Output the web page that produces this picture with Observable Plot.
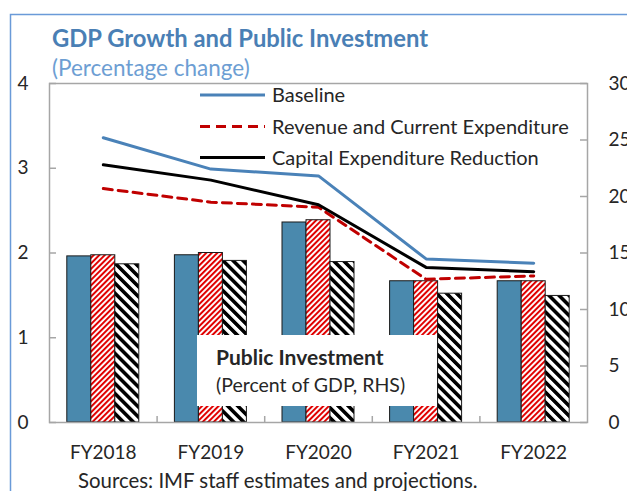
<!DOCTYPE html>
<html>
<head>
<meta charset="utf-8">
<script src="https://cdn.jsdelivr.net/npm/d3@7"></script>
<script src="https://cdn.jsdelivr.net/npm/@observablehq/plot@0.6"></script>
<style>
  html, body { margin: 0; padding: 0; background: white; }
  #chart { width: 627px; height: 491px; }
</style>
</head>
<body>
<div id="chart"></div>
<script>
// ---- Data ----
const categories = ["FY2018", "FY2019", "FY2020", "FY2021", "FY2022"];
// GDP growth (percentage change, LHS)
const baseline = [3.36, 2.99, 2.91, 1.93, 1.88];
const revenueCurrent = [2.76, 2.60, 2.54, 1.69, 1.73];
const capitalReduction = [3.04, 2.86, 2.57, 1.83, 1.78];
// Public investment (percent of GDP, RHS)
const investBaseline = [14.7, 14.8, 17.7, 12.5, 12.5];
const investRevenue = [14.8, 15.0, 17.9, 12.5, 12.5];
const investCapital = [14.0, 14.3, 14.2, 11.4, 11.2];
const leftTicks = [0, 1, 2, 3, 4];
const rightTicks = [0, 5, 10, 15, 20, 25, 30];
const seriesNames = ["Baseline", "Revenue and Current Expenditure", "Capital Expenditure Reduction"];

// ---- Layout ----
const W = 627, H = 491;
const mL = 49, mR = 40, mT = 83, mB = 69;
const pw = W - mL - mR, ph = H - mT - mB;
const rhs = v => v * 4 / 30;            // map RHS values onto LHS scale
const step = pw / categories.length;
const barW = 24 / step;                  // in x units
const FONT = "Lato, 'Open Sans', sans-serif";
const TXT = "#262626";

function barsFor(values, k) {
  return categories.map((c, i) => {
    const x1 = i + 0.5 + (k - 1.5) * barW;
    return {cat: c, x1, x2: x1 + barW, v: rhs(values[i])};
  });
}
function lineFor(values) {
  return categories.map((c, i) => ({cat: c, x: i + 0.5, y: values[i]}));
}

const chart = Plot.plot({
  width: W, height: H,
  marginLeft: mL, marginRight: mR, marginTop: mT, marginBottom: mB,
  x: {domain: [0, categories.length], axis: null},
  y: {domain: [0, 4], axis: null},
  style: {fontFamily: FONT, fontSize: "19px", color: TXT, background: "white", overflow: "visible"},
  marks: [
    Plot.rectY(barsFor(investBaseline, 0), {x1: "x1", x2: "x2", y1: 0, y2: "v", fill: "#4a89ad", stroke: "#1a1a1a", strokeWidth: 1}),
    Plot.rectY(barsFor(investRevenue, 1), {x1: "x1", x2: "x2", y1: 0, y2: "v", fill: "url(#redHatch)", stroke: "#1a1a1a", strokeWidth: 1}),
    Plot.rectY(barsFor(investCapital, 2), {x1: "x1", x2: "x2", y1: 0, y2: "v", fill: "url(#blackHatch)", stroke: "#1a1a1a", strokeWidth: 1}),
    Plot.frame({stroke: "#a6a6a6", strokeWidth: 1.5}),
    Plot.ruleY(leftTicks, {y: d => d, stroke: "#a6a6a6", strokeWidth: 1.5, insetRight: pw - 7}),
    Plot.ruleY(rightTicks, {y: d => rhs(d), stroke: "#a6a6a6", strokeWidth: 1.5, insetLeft: pw - 7}),
    Plot.ruleX(d3.range(1, categories.length), {x: d => d, stroke: "#a6a6a6", strokeWidth: 1.5, insetTop: ph - 6}),
    Plot.axisY({anchor: "left", ticks: leftTicks, tickSize: 0, tickPadding: 21, tickFormat: d => d, fontSize: 19, fill: TXT}),
    Plot.axisY({anchor: "right", ticks: rightTicks.map(rhs), tickSize: 0, tickPadding: 21, tickFormat: d => Math.round(d * 30 / 4), fontSize: 19, fill: TXT}),
    Plot.axisX({ticks: categories.map((c, i) => i + 0.5), tickSize: 0, tickPadding: 23, tickFormat: d => categories[Math.floor(d)], fontSize: 19, fill: TXT}),
    Plot.line(lineFor(revenueCurrent), {x: "x", y: "y", stroke: "#c00000", strokeWidth: 3, strokeDasharray: "9,6"}),
    Plot.line(lineFor(capitalReduction), {x: "x", y: "y", stroke: "#000000", strokeWidth: 3}),
    Plot.line(lineFor(baseline), {x: "x", y: "y", stroke: "#4a82b8", strokeWidth: 3})
  ]
});

document.getElementById("chart").appendChild(chart);

// ---- Patterns, frame, titles, legend, annotation ----
const svg = d3.select(chart);
const defs = svg.insert("defs", ":first-child");
const red = defs.append("pattern").attr("id", "redHatch").attr("patternUnits", "userSpaceOnUse")
  .attr("width", 3.9).attr("height", 3.9).attr("patternTransform", "rotate(45)");
red.append("rect").attr("width", 3.9).attr("height", 3.9).attr("fill", "white");
red.append("rect").attr("width", 2).attr("height", 3.9).attr("fill", "#e00000");
const blk = defs.append("pattern").attr("id", "blackHatch").attr("patternUnits", "userSpaceOnUse")
  .attr("width", 7.1).attr("height", 7.1).attr("patternTransform", "rotate(-45)");
blk.append("rect").attr("width", 7.1).attr("height", 7.1).attr("fill", "white");
blk.append("rect").attr("width", 3.6).attr("height", 7.1).attr("fill", "#000");

const extra = svg.append("g").attr("text-anchor", "start").attr("font-family", FONT);

// outer blue frame
extra.append("path").attr("d", "M10.5,491 V14.5 H627").attr("fill", "none")
  .attr("stroke", "#6a9ad8").attr("stroke-width", 1.5);

// title & subtitle
extra.append("text").attr("x", 52).attr("y", 47).attr("font-size", 23.8)
  .attr("font-weight", "bold").attr("fill", "#4a7fb5").text("GDP Growth and Public Investment");
extra.append("text").attr("x", 52).attr("y", 76).attr("font-size", 22.5)
  .attr("fill", "#6d9ed3").text("(Percentage change)");

// source
extra.append("text").attr("x", 78).attr("y", 488).attr("font-size", 20.4)
  .attr("fill", TXT).text("Sources: IMF staff estimates and projections.");

// annotation box
extra.append("rect").attr("x", 197).attr("y", 335).attr("width", 240).attr("height", 71).attr("fill", "white");
extra.append("text").attr("x", 216).attr("y", 365).attr("font-size", 21)
  .attr("font-weight", "bold").attr("fill", TXT).text("Public Investment");
extra.append("text").attr("x", 216).attr("y", 392).attr("font-size", 19.5)
  .attr("fill", TXT).text("(Percent of GDP, RHS)");

// legend
const legendStyles = [
  {stroke: "#4a82b8", dash: null},
  {stroke: "#c00000", dash: "10,6"},
  {stroke: "#000000", dash: null}
];
const legendY = [95, 126.5, 157.5];
seriesNames.forEach((name, i) => {
  extra.append("line").attr("x1", 200).attr("x2", 265).attr("y1", legendY[i]).attr("y2", legendY[i])
    .attr("stroke", legendStyles[i].stroke).attr("stroke-width", 3)
    .attr("stroke-dasharray", legendStyles[i].dash);
  extra.append("text").attr("x", 272).attr("y", legendY[i]).attr("dy", "0.36em")
    .attr("font-size", 20).attr("fill", TXT).text(name);
});
</script>
</body>
</html>
